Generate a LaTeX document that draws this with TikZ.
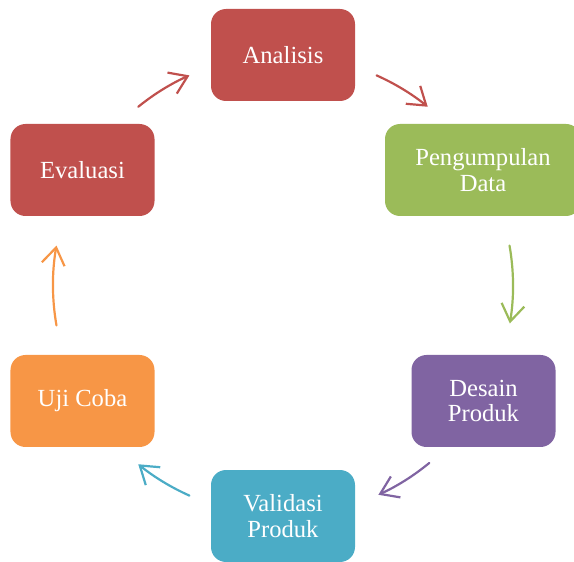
\documentclass[tikz,border=0pt]{standalone}
\usepackage{fontspec}
\setmainfont{Liberation Serif}
\usetikzlibrary{arrows.meta}

\definecolor{redbox}{HTML}{C0504D}
\definecolor{greenbox}{HTML}{9BBB59}
\definecolor{purplebox}{HTML}{8064A2}
\definecolor{tealbox}{HTML}{4BACC6}
\definecolor{orangebox}{HTML}{F79646}

\tikzset{
    stage/.style={rounded corners=0.3cm, minimum width=2.88cm, minimum height=1.84cm,
        text=white, align=center, font=\fontsize{14}{14.7}\selectfont, inner sep=0pt},
    flow/.style={line width=1.25pt, line cap=round, -{Straight Barb[length=0.34cm,width=0.46cm]}}
}

\begin{document}
\begin{tikzpicture}
        \useasboundingbox (0,0) rectangle (11.48,11.22);

        % Stages
        \node[stage, fill=redbox] (analisis) at (5.66,10.12) {Analisis};
        \node[stage, fill=greenbox, minimum width=3.92cm] (pengumpulan) at (9.66,7.82) {Pengumpulan\\Data};
        \node[stage, fill=purplebox] (desain) at (9.67,3.2) {Desain\\Produk};
        \node[stage, fill=tealbox] (validasi) at (5.66,0.9) {Validasi\\Produk};
        \node[stage, fill=orangebox] (uji) at (1.65,3.2) {Uji Coba};
        \node[stage, fill=redbox] (evaluasi) at (1.65,7.82) {Evaluasi};

        % Cycle arrows
        \coordinate (hub) at (5.66,5.51);
        \draw[flow, redbox] ([shift={(129:4.6)}]hub) arc[start angle=129, end angle=114, radius=4.6];
        \draw[flow, redbox] ([shift={(66:4.6)}]hub) arc[start angle=66, end angle=51, radius=4.6];
        \draw[flow, greenbox] ([shift={(10:4.6)}]hub) arc[start angle=10, end angle=-9.5, radius=4.6];
        \draw[flow, purplebox] ([shift={(-50.5:4.6)}]hub) arc[start angle=-50.5, end angle=-65.5, radius=4.6];
        \draw[flow, tealbox] ([shift={(-114:4.6)}]hub) arc[start angle=-114, end angle=-129, radius=4.6];
        \draw[flow, orangebox] ([shift={(-170:4.6)}]hub) arc[start angle=-170, end angle=-190, radius=4.6];
    \end{tikzpicture}
\end{document}
